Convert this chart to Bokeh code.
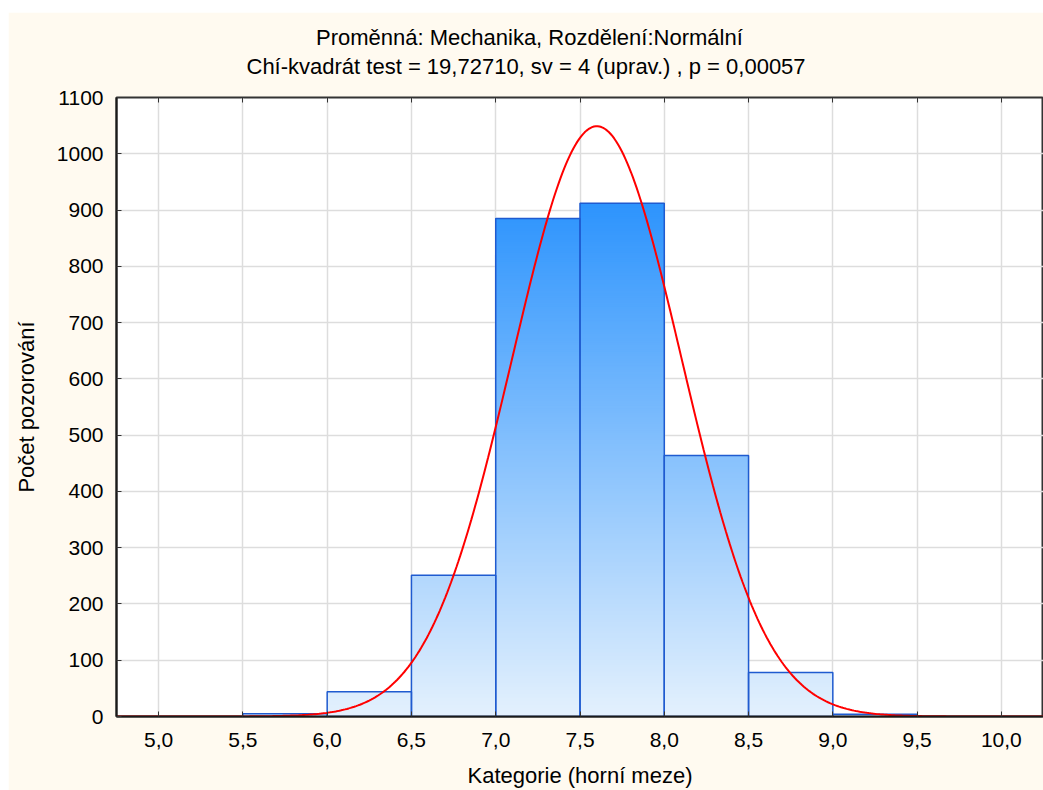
import numpy as np
from bokeh.plotting import figure
from bokeh.models import FixedTicker, LinearAxis, Title, Range1d
from bokeh.embed import file_html
from bokeh.resources import INLINE

# ---- data ----
bin_lower = [5.5, 6.0, 6.5, 7.0, 7.5, 8.0, 8.5, 9.0]
bin_upper = [6.0, 6.5, 7.0, 7.5, 8.0, 8.5, 9.0, 9.5]
counts = [5, 44, 251, 885, 912, 464, 78, 4]
fit_mean = 7.6
fit_sd = 0.5026
bin_width = 0.5
x_ticks = [5.0, 5.5, 6.0, 6.5, 7.0, 7.5, 8.0, 8.5, 9.0, 9.5, 10.0]
x_tick_labels = ["5,0", "5,5", "6,0", "6,5", "7,0", "7,5", "8,0", "8,5", "9,0", "9,5", "10,0"]
y_ticks = [0, 100, 200, 300, 400, 500, 600, 700, 800, 900, 1000, 1100]
title_line1 = "Proměnná: Mechanika, Rozdělení:Normální"
title_line2 = "Chí-kvadrát test = 19,72710, sv = 4 (uprav.) , p = 0,00057"
x_label = "Kategorie (horní meze)"
y_label = "Počet pozorování"

FONT = "Liberation Sans"
BG = "#fffaf0"

p = figure(width=1035, height=778, output_backend="svg", toolbar_location=None,
           x_range=Range1d(4.75, 10.25), y_range=Range1d(0, 1100),
           background_fill_color="white", border_fill_color=BG,
           min_border_left=108, min_border_right=0, min_border_top=85, min_border_bottom=72)
p.margin = (12, 0, 0, 8)
p.outline_line_color = "#333333"
p.outline_line_width = 2

# gradient fill (global vertical gradient, light at 0 -> saturated at the highest bar)
c_lo = np.array([228, 241, 253])
c_hi = np.array([45, 148, 253])
vmax = max(counts)
step = 4
ql, qr, qb, qt, qc = [], [], [], [], []
for l, r, h in zip(bin_lower, bin_upper, counts):
    k = 0
    while k * step < h:
        t = min(k * step / vmax, 1.0)
        c = (c_lo + (c_hi - c_lo) * t).astype(int)
        ql.append(l); qr.append(r); qb.append(k * step); qt.append(h)
        qc.append("#%02x%02x%02x" % tuple(c))
        k += 1
order = np.argsort(qb, kind="stable")
p.quad(left=[ql[i] for i in order], right=[qr[i] for i in order],
       bottom=[qb[i] for i in order], top=[qt[i] for i in order],
       fill_color=[qc[i] for i in order], line_color=None)
p.quad(left=bin_lower, right=bin_upper, bottom=0, top=counts,
       fill_color=None, line_color="#1f5bd0", line_width=1.5)

# fitted normal curve
n_total = sum(counts)
xs = np.linspace(4.75, 10.25, 500)
ys = n_total * bin_width / (fit_sd * np.sqrt(2 * np.pi)) * np.exp(-0.5 * ((xs - fit_mean) / fit_sd) ** 2)
p.line(xs, ys, line_color="#ff0000", line_width=2)

# axes
xa = p.xaxis[0]
xa.ticker = FixedTicker(ticks=x_ticks)
xa.major_label_overrides = {t: s for t, s in zip(x_ticks, x_tick_labels)}
ya = p.yaxis[0]
ya.ticker = FixedTicker(ticks=y_ticks)
for ax in (xa, ya):
    ax.major_label_text_font = FONT
    ax.major_label_text_font_size = "21px"
    ax.major_label_text_color = "black"
    ax.axis_label_text_font = FONT
    ax.axis_label_text_font_size = "22px"
    ax.axis_label_text_font_style = "normal"
    ax.axis_label_text_color = "black"
    ax.major_tick_in = 5
    ax.major_tick_out = 0
    ax.minor_tick_line_color = None
    ax.major_tick_line_color = "#333333"
    ax.axis_line_color = "#1a1a1a"
    ax.axis_line_width = 2
xa.axis_label = x_label
ya.axis_label = y_label
xa.major_label_standoff = 16
ya.major_label_standoff = 13
xa.axis_label_standoff = 13
ya.axis_label_standoff = 15

top_axis = LinearAxis(ticker=FixedTicker(ticks=x_ticks), major_label_text_font_size="0px",
                      major_tick_in=5, major_tick_out=0, minor_tick_line_color=None,
                      axis_line_color="#333333", major_tick_line_color="#333333",
                      major_label_standoff=0)
top_axis.major_label_overrides = {t: "" for t in x_ticks}
p.add_layout(top_axis, "above")

p.xgrid.ticker = FixedTicker(ticks=x_ticks)
p.ygrid.ticker = FixedTicker(ticks=y_ticks)
p.grid.grid_line_color = "#dddddd"
p.grid.grid_line_width = 1.5

# title: two lines, centred at x=531 in the window (frame starts at 116)
for txt, w_est, so in ((title_line2, 570, 38), (title_line1, 431, -35)):
    p.add_layout(Title(text=txt, align="left", offset=531 - 116 - w_est / 2,
                       text_font=FONT, text_font_size="22px", text_font_style="normal",
                       text_color="black", standoff=so), "above")

open("out.html", "w").write(file_html(p, INLINE))
